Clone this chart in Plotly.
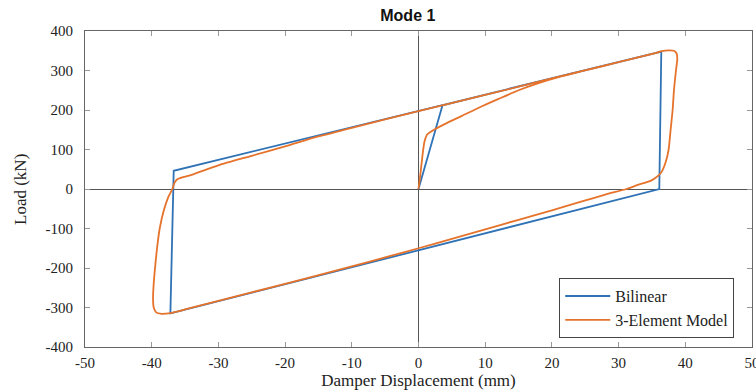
import plotly.graph_objects as go

# Bilinear model (mm, kN)
bil_x = [0, 3.6, 36.4, 36.1, -37.2, -36.7, 36.4]
bil_y = [0, 212, 348, 0, -315, 46, 348]

# 3-Element model (mm, kN)
tem_x = [0, 0.3, 0.6, 0.9, 1.3, 2.2, 4, 6.5, 9.2, 12, 15, 18, 21, 25, 30, 35,
         36.5, 37.5, 38.3, 38.7, 38.8, 38.6, 38.3, 38.1, 37.8, 37.5, 37.1, 36.6, 36.2, 35.5, 34.7, 33, 31.2,
         28, 24, 20, 15, 10, 5, 0, -5, -10, -20, -30, -35, -37.2,
         -38.5, -39.3, -39.7, -39.8, -39.7, -39.5, -39.2, -38.8, -38.2, -37.5, -36.9,
         -36.6, -36.2, -35.3, -34, -30, -25, -20, -15, -10, -5, 0,
         10, 20, 30, 36]
tem_y = [0, 40, 85, 120, 138, 149, 165, 185, 207, 228, 250, 268, 283, 300, 321, 342,
         349, 351, 350, 343, 330, 300, 250, 200, 150, 100, 70, 48, 38, 28, 20, 11, 0,
         -14, -34, -54, -78, -102, -126, -150, -173, -196, -240, -283, -305, -314,
         -316, -313, -300, -275, -240, -200, -150, -100, -55, -20, 0,
         15, 24, 30, 36, 60, 84, 108, 133, 155, 176, 197,
         238, 280, 321, 346]

x_ticks = list(range(-50, 51, 10))
y_ticks = list(range(-400, 401, 100))

BLUE = "#2F72B5"
ORANGE = "#E5732C"
serif = "Liberation Serif, Times New Roman, serif"
TXT = "#222222"

fig = go.Figure()
fig.add_trace(go.Scatter(x=bil_x, y=bil_y, mode="lines", name="Bilinear",
                         line=dict(color=BLUE, width=1.8)))
fig.add_trace(go.Scatter(x=tem_x, y=tem_y, mode="lines", name="3-Element Model",
                         line=dict(color=ORANGE, width=1.8, shape="spline", smoothing=0.6)))

axis_common = dict(showline=True, linecolor="#666666", linewidth=1, mirror="ticks",
                   ticks="inside", ticklen=5, tickcolor="#999999", showgrid=False,
                   zeroline=True, zerolinecolor="#555555", zerolinewidth=1.3,
                   automargin=False, ticklabeloverflow="allow",
                   tickfont=dict(family=serif, size=15, color=TXT))

fig.update_xaxes(range=[-50, 50], tickvals=x_ticks, ticktext=[str(v) for v in x_ticks],
                 ticklabelstandoff=2,
                 title=dict(text="Damper Displacement (mm)", font=dict(family=serif, size=17, color=TXT),
                            standoff=2), **axis_common)
fig.update_yaxes(range=[-400, 400], tickvals=y_ticks, ticktext=[str(v) for v in y_ticks],
                 ticklabelstandoff=8, **axis_common)

fig.add_annotation(text="Load (kN)", textangle=-90, xref="paper", yref="paper",
                   x=-0.0975, y=0.5, xanchor="center", yanchor="middle", showarrow=False,
                   font=dict(family=serif, size=17, color=TXT))

fig.update_layout(
    width=756, height=392,
    margin=dict(l=85, r=4, t=31, b=45),
    paper_bgcolor="white", plot_bgcolor="white",
    title=dict(text="<b>Mode 1</b>", x=0.484, xref="paper", y=0.96, yref="container",
               xanchor="center", yanchor="middle",
               font=dict(family="Liberation Sans, Arial, sans-serif", size=16, color="#111111")),
    legend=dict(x=0.711, y=0.218, xanchor="left", yanchor="top",
                bordercolor="#444444", borderwidth=1, bgcolor="white",
                font=dict(family=serif, size=16, color=TXT),
                itemwidth=45, tracegroupgap=2),
    showlegend=True,
)

fig.write_html("out.html")
